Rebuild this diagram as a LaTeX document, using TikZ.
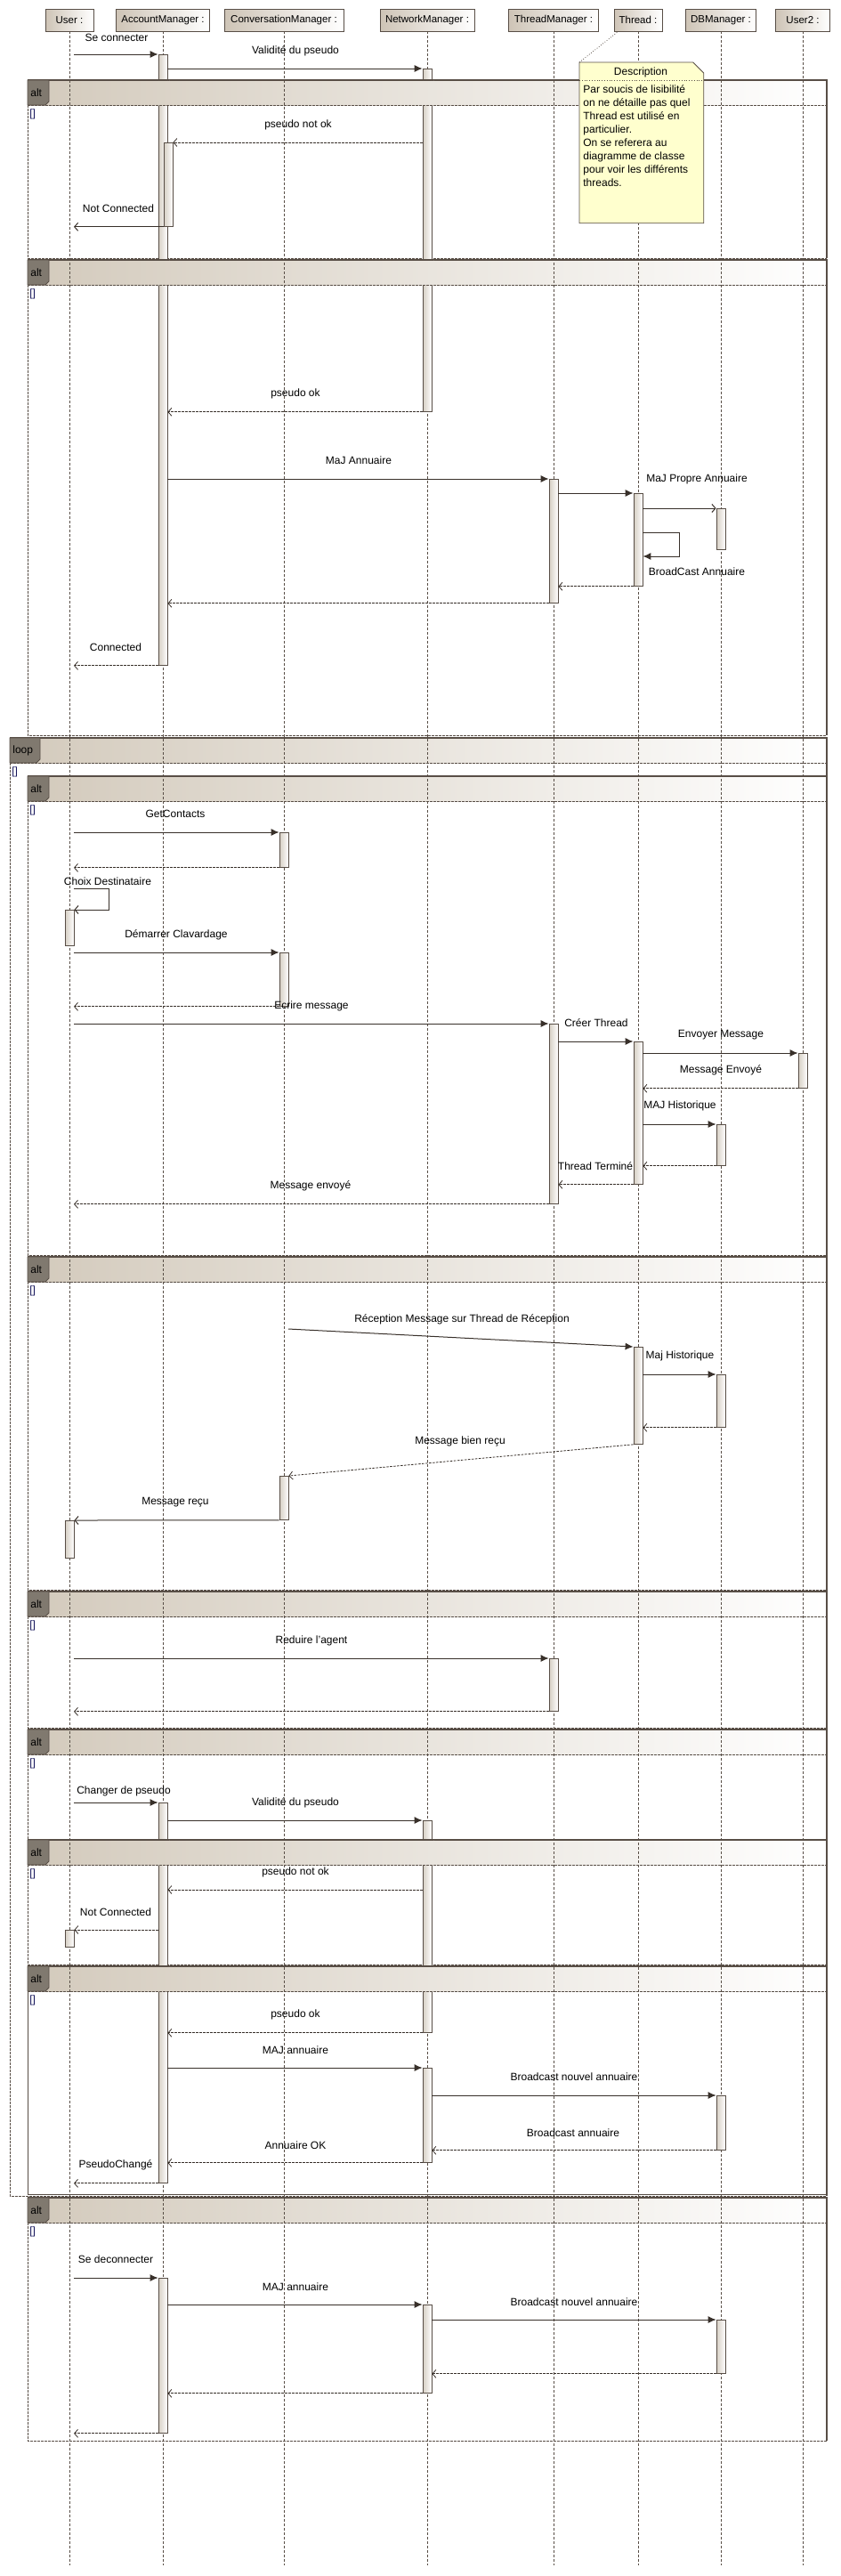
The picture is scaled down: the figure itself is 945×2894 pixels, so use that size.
\documentclass[tikz,border=0pt]{standalone}
\usepackage{fontspec}
\setmainfont{Liberation Sans}
\usepackage{tikz}
\usetikzlibrary{positioning, arrows.meta}
\definecolor{framecol}{RGB}{88,78,70}
\definecolor{inkcol}{RGB}{56,48,42}
\definecolor{headtan}{RGB}{206,196,182}
\definecolor{bandtan}{RGB}{211,202,188}
\definecolor{tabgray}{RGB}{128,121,111}
\definecolor{bartan}{RGB}{214,206,195}
\definecolor{notefill}{RGB}{255,255,206}
\definecolor{guardcol}{RGB}{20,20,90}
\newcommand{\msgfont}{\fontsize{12}{14}\selectfont}
\newcommand{\headfont}{\fontsize{11.5}{13}\selectfont}
\newcommand{\notefont}{\fontsize{12}{15}\selectfont}
\newcommand{\seqframe}[6]{%
  \shade[left color=bandtan, right color=white] (#2,#3) rectangle (929,#3+28);
  \draw[framecol, dash pattern=on 3pt off 1pt] (#2,#3+28) -- (929,#3+28);
  \draw[framecol, dash pattern=on 3pt off 1pt] (#2,#3) -- (#2,#4) -- (929,#4);
  \draw[framecol, line width=1.2pt] (#2,#3) -- (929,#3) -- (929,#4);
  \draw[framecol, fill=tabgray] (#2,#3) -- ++(#5,0) -- ++(0,24) -- ++(-4,4) -- (#2,#3+28) -- cycle;
  \node[anchor=west, inner sep=0pt, font=\msgfont] (#1) at (#2+3,#3+14) {#6};
  \node[anchor=north west, inner sep=0pt, font=\msgfont, text=guardcol] (#1-guard) at (#2+2,#3+32) {[]};
}
\newcommand{\bandcover}[2]{%
  \begin{scope}
    \clip (177,#2-1) rectangle (190,#2+29) (474,#2-1) rectangle (487,#2+29);
    \shade[left color=bandtan, right color=white] (#1,#2) rectangle (929,#2+28);
    \draw[framecol, dash pattern=on 3pt off 1pt] (#1,#2+28) -- (929,#2+28);
    \draw[framecol, line width=1.2pt] (#1,#2) -- (929,#2);
  \end{scope}
}

\begin{document}
\begin{tikzpicture}[x=1pt, y=-1pt, line width=0.8pt]
\tikzstyle{head}=[draw=framecol, left color=headtan, right color=white, minimum height=25, inner sep=0pt, font=\headfont]
\tikzstyle{lifeline}=[draw=framecol, line width=0.7pt, dash pattern=on 3pt off 2pt]
\tikzstyle{bar}=[draw=framecol, left color=bartan, right color=white, minimum width=10, inner sep=0pt, anchor=north]
\tikzstyle{call}=[draw=inkcol, line width=1pt, -{Latex[length=9pt, width=8pt]}]
\tikzstyle{reply}=[draw=inkcol, dash pattern=on 2.5pt off 1.5pt, -{Straight Barb[length=4pt, width=9pt]}]
\tikzstyle{async}=[draw=inkcol, line width=1pt, -{Straight Barb[length=4pt, width=9pt]}]
\tikzstyle{msg}=[inner sep=0pt, font=\msgfont]

\useasboundingbox (0,0) rectangle (945,2894);

\seqframe{alt-login-fail}{31}{90}{290}{24}{alt}
\seqframe{alt-login-ok}{31}{292}{826}{24}{alt}
\seqframe{loop-main}{11}{829}{2467}{34}{loop}
\seqframe{alt-send}{31}{872}{1410}{24}{alt}
\seqframe{alt-receive}{31}{1412}{1786}{24}{alt}
\seqframe{alt-reduce}{31}{1788}{1941}{24}{alt}
\seqframe{alt-rename}{31}{1943}{2465}{24}{alt}
\seqframe{alt-rename-fail}{31}{2067}{2207}{24}{alt}
\seqframe{alt-rename-ok}{31}{2209}{2465}{24}{alt}
\seqframe{alt-logout}{31}{2469}{2742}{24}{alt}

\node[head, minimum width=54](head-user) at (78,22.5) {User :};
\node[head, minimum width=105](head-account) at (183,22.5) {AccountManager :};
\node[head, minimum width=134](head-conv) at (319,22.5) {ConversationManager :};
\node[head, minimum width=106](head-network) at (480,22.5) {NetworkManager :};
\node[head, minimum width=101](head-tmanager) at (622,22.5) {ThreadManager :};
\node[head, minimum width=54](head-thread) at (717,22.5) {Thread :};
\node[head, minimum width=79](head-db) at (810,22.5) {DBManager :};
\node[head, minimum width=61](head-user2) at (902,22.5) {User2 :};

\coordinate (life-end) at (0,2882);
\coordinate (user-port) at (83,0);
\draw[lifeline] (head-user.south) -- (head-user |- life-end);
\draw[lifeline] (head-account.south) -- (head-account |- life-end);
\draw[lifeline] (head-conv.south) -- (head-conv |- life-end);
\draw[lifeline] (head-network.south) -- (head-network |- life-end);
\draw[lifeline] (head-tmanager.south) -- (head-tmanager |- life-end);
\draw[lifeline] (head-thread.south) -- (head-thread |- life-end);
\draw[lifeline] (head-db.south) -- (head-db |- life-end);
\draw[lifeline] (head-user2.south) -- (head-user2 |- life-end);

\node[bar, minimum height=686](am1) at (183,61) {};
\node[bar, minimum height=385](nm1) at (480,77) {};
\node[bar, minimum height=94](am2) at (189,160) {};
\node[bar, minimum height=139](tm1) at (622,538) {};
\node[bar, minimum height=104](th1) at (717,554) {};
\node[bar, minimum height=46](db1) at (810,571) {};
\node[bar, minimum height=39](cm1) at (319,935) {};
\node[bar, minimum height=40](us1) at (78,1022) {};
\node[bar, minimum height=60](cm2) at (319,1070) {};
\node[bar, minimum height=202](tm2) at (622,1150) {};
\node[bar, minimum height=160](th2) at (717,1170) {};
\node[bar, minimum height=39](u2a) at (902,1183) {};
\node[bar, minimum height=46](db2) at (810,1263) {};
\node[bar, minimum height=109](th3) at (717,1513) {};
\node[bar, minimum height=59](db3) at (810,1544) {};
\node[bar, minimum height=49](cm3) at (319,1658) {};
\node[bar, minimum height=42](us2) at (78,1708) {};
\node[bar, minimum height=59](tm3) at (622,1863) {};
\node[bar, minimum height=427](am3) at (183,2025) {};
\node[bar, minimum height=238](nm2) at (480,2045) {};
\node[bar, minimum height=19](us3) at (78,2168) {};
\node[bar, minimum height=106](nm3) at (480,2323) {};
\node[bar, minimum height=61](db4) at (810,2354) {};
\node[bar, minimum height=174](am4) at (183,2559) {};
\node[bar, minimum height=99](nm4) at (480,2589) {};
\node[bar, minimum height=60](db5) at (810,2606) {};

\bandcover{31}{90}
\bandcover{31}{292}
\bandcover{31}{2067}
\bandcover{31}{2209}

\draw[call] (user-port |- am1.north) -- (am1.north west);
\node[msg](lbl-connect) at (131,42) {Se connecter};
\draw[call] (am1.east |- nm1.north) -- (nm1.north west);
\node[msg](lbl-check) at (332,57) {Validité du pseudo};
\draw[reply] (nm1.west |- am2.north) -- (am2.north east);
\node[msg](lbl-notok) at (335,140) {pseudo not ok};
\draw[async] (am2.south west) -- (user-port |- am2.south);
\node[msg](lbl-notconn) at (133,234) {Not Connected};
\draw[reply] (nm1.south west) -- (am1.east |- nm1.south);
\node[msg](lbl-ok) at (332,442) {pseudo ok};
\draw[call] (am1.east |- tm1.north) -- (tm1.north west);
\node[msg](lbl-maj) at (403,517) {MaJ Annuaire};
\draw[call] (tm1.east |- th1.north) -- (th1.north west);
\node[msg](lbl-propre) at (783,538) {MaJ Propre Annuaire};
\draw[async] (th1.east |- db1.north) -- (db1.north west);
\coordinate (th1-loop) at (763,598);
\coordinate (th1-back) at (763,625);
\draw[call] (th1.east |- th1-loop) -- (th1-loop) -- (th1-back) -- (th1.east |- th1-back);
\node[msg](lbl-broadcast) at (783,642) {BroadCast Annuaire};
\draw[reply] (th1.south west) -- (tm1.east |- th1.south);
\draw[reply] (tm1.south west) -- (am1.east |- tm1.south);
\draw[reply] (am1.south west) -- (user-port |- am1.south);
\node[msg](lbl-connected) at (130,727) {Connected};

\draw[call] (user-port |- cm1.north) -- (cm1.north west);
\node[msg](lbl-contacts) at (197,914) {GetContacts};
\draw[reply] (cm1.south west) -- (user-port |- cm1.south);
\coordinate (choix-loop) at (122,998);
\coordinate (choix-back) at (122,1022);
\draw[async] (user-port |- choix-loop) -- (choix-loop) -- (choix-back) -- (us1.north east);
\node[msg](lbl-choix) at (121,990) {Choix Destinataire};
\draw[call] (user-port |- cm2.north) -- (cm2.north west);
\node[msg](lbl-demarrer) at (198,1050) {Démarrer Clavardage};
\draw[reply] (cm2.south west) -- (user-port |- cm2.south);
\node[msg](lbl-ecrire) at (350,1130) {Ecrire message};
\draw[call] (user-port |- tm2.north) -- (tm2.north west);
\node[msg](lbl-creer) at (670,1149) {Créer Thread};
\draw[call] (tm2.east |- th2.north) -- (th2.north west);
\node[msg](lbl-envoyer) at (810,1163) {Envoyer Message};
\draw[call] (th2.east |- u2a.north) -- (u2a.north west);
\node[msg](lbl-envoye) at (810,1202) {Message Envoyé};
\draw[reply] (u2a.south west) -- (th2.east |- u2a.south);
\draw[call] (th2.east |- db2.north) -- (db2.north west);
\node[msg](lbl-historique) at (764,1242) {MAJ Historique};
\draw[reply] (db2.south west) -- (th2.east |- db2.south);
\node[msg](lbl-termine) at (669,1310) {Thread Terminé};
\draw[reply] (th2.south west) -- (tm2.east |- th2.south);
\draw[reply] (tm2.south west) -- (user-port |- tm2.south);
\node[msg](lbl-msgenvoye) at (349,1332) {Message envoyé};

\coordinate (rx-start) at (324,1493);
\draw[call] (rx-start) -- (th3.north west);
\node[msg](lbl-reception) at (519,1482) {Réception Message sur Thread de Réception};
\draw[call] (th3.east |- db3.north) -- (db3.north west);
\node[msg](lbl-majhisto) at (764,1523) {Maj Historique};
\draw[reply] (db3.south west) -- (th3.east |- db3.south);
\draw[reply] (th3.south west) -- (cm3.north east);
\node[msg](lbl-bienrecu) at (517,1619) {Message bien reçu};
\draw[async] (cm3.south west) -- (us2.north east);
\node[msg](lbl-recu) at (197,1688) {Message reçu};

\draw[call] (user-port |- tm3.north) -- (tm3.north west);
\node[msg](lbl-reduire) at (350,1843) {Reduire l'agent};
\draw[reply] (tm3.south west) -- (user-port |- tm3.south);

\draw[call] (user-port |- am3.north) -- (am3.north west);
\node[msg](lbl-changer) at (139,2012) {Changer de pseudo};
\draw[call] (am3.east |- nm2.north) -- (nm2.north west);
\node[msg](lbl-check2) at (332,2025) {Validité du pseudo};
\coordinate (rename-fail) at (0,2123);
\draw[reply] (nm2.west |- rename-fail) -- (am3.east |- rename-fail);
\node[msg](lbl-notok2) at (332,2103) {pseudo not ok};
\draw[reply] (am3.west |- us3.north) -- (us3.north east);
\node[msg](lbl-notconn2) at (130,2148) {Not Connected};
\draw[reply] (nm2.south west) -- (am3.east |- nm2.south);
\node[msg](lbl-ok2) at (332,2263) {pseudo ok};
\draw[call] (am3.east |- nm3.north) -- (nm3.north west);
\node[msg](lbl-majann) at (332,2303) {MAJ annuaire};
\draw[call] (nm3.east |- db4.north) -- (db4.north west);
\node[msg](lbl-nouvel) at (645,2333) {Broadcast nouvel annuaire};
\draw[reply] (db4.south west) -- (nm3.east |- db4.south);
\node[msg](lbl-bcast) at (644,2396) {Broadcast annuaire};
\draw[reply] (nm3.south west) -- (am3.east |- nm3.south);
\node[msg](lbl-annok) at (332,2410) {Annuaire OK};
\draw[reply] (am3.south west) -- (user-port |- am3.south);
\node[msg](lbl-change) at (130,2432) {PseudoChangé};

\draw[call] (user-port |- am4.north) -- (am4.north west);
\node[msg](lbl-deconnect) at (130,2538) {Se deconnecter};
\draw[call] (am4.east |- nm4.north) -- (nm4.north west);
\node[msg](lbl-majann2) at (332,2569) {MAJ annuaire};
\draw[call] (nm4.east |- db5.north) -- (db5.north west);
\node[msg](lbl-nouvel2) at (645,2586) {Broadcast nouvel annuaire};
\draw[reply] (db5.south west) -- (nm4.east |- db5.south);
\draw[reply] (nm4.south west) -- (am4.east |- nm4.south);
\draw[reply] (am4.south west) -- (user-port |- am4.south);

\node[minimum width=139, minimum height=180, anchor=north west, inner sep=0pt](desc) at (651,70) {};
\filldraw[draw=framecol, fill=notefill] (desc.north west) -- ([xshift=-12pt]desc.north east) -- ([yshift=-12pt]desc.north east) -- (desc.south east) -- (desc.south west) -- cycle;
\node[msg](desc-title) at (720,81) {Description};
\draw[framecol, dotted] ([yshift=-20pt]desc.north west) -- ([yshift=-20pt]desc.north east);
\node[msg, anchor=north west, align=left, font=\notefont](desc-text) at (655,95) {Par soucis de lisibilité\\on ne détaille pas quel\\Thread est utilisé en\\particulier.\\On se referera au\\diagramme de classe\\pour voir les différents\\threads.};
\draw[framecol, dotted] (desc.north west) -- ([xshift=5pt]head-thread.south west);

\end{tikzpicture}
\end{document}
